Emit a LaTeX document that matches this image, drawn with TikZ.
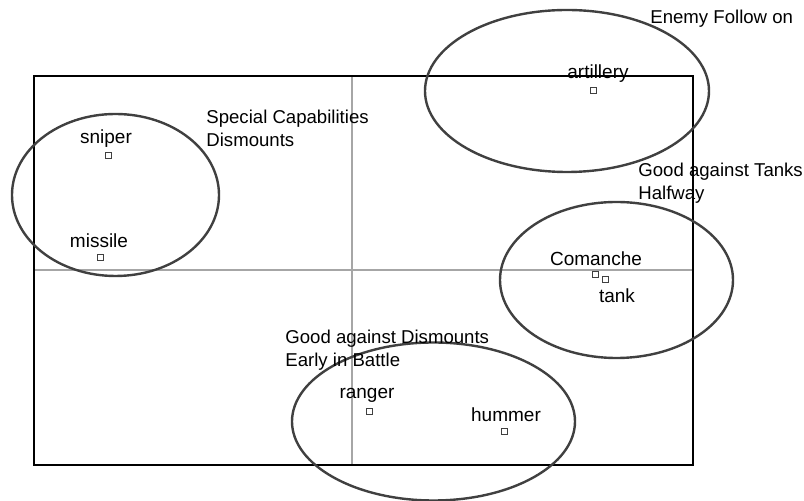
\documentclass[tikz,border=0pt]{standalone}
\usepackage{fontspec}
\setmainfont{Liberation Sans}
\tikzset{
  pt/.style={draw=black!75,fill=white,line width=.4pt,minimum size=3pt,inner sep=0pt},
  ptlabel/.style={font=\fontsize{9.5}{11}\selectfont,inner sep=0pt},
  grplabel/.style={font=\fontsize{9.3}{11.5}\selectfont,align=left,anchor=north west,inner sep=0pt},
  grp/.style={draw=black!75,line width=1.2pt},
}
\begin{document}
\begin{tikzpicture}[x=.5pt,y=-.5pt]
\useasboundingbox (0,0) rectangle (804,501);
% field and axes
\draw[black!35,line width=.7pt](34,270)--(693,270);
\draw[black!35,line width=.7pt](352,76)--(352,465);
\draw[line width=1pt](34,76)rectangle(693,465);
% groups
\draw[grp](115.5,195)ellipse[x radius=103.5,y radius=81];
\draw[grp](567,91)ellipse[x radius=142,y radius=81];
\draw[grp](616.5,280)ellipse[x radius=116.5,y radius=78];
\draw[grp](433.5,421.5)ellipse[x radius=141.5,y radius=79];
\node[grplabel](capab) at (206,110){Special Capabilities\\Dismounts};
\node[grplabel](follow) at (650,10){Enemy Follow on};
\node[grplabel](tanks) at (638,163){Good against Tanks\\Halfway};
\node[grplabel](dism) at (285,330){Good against Dismounts\\Early in Battle};
% units
\foreach \n/\x/\y/\lx/\ly/\t in {sniper/108/155/106/139/sniper,missile/100/257/99/241/missile,
  artillery/593/90/598/74/artillery,comanche/595/274/596/259/Comanche,tank/605/279/617/296/tank,
  ranger/369/411/367/395/ranger,hummer/504/431/506/415/hummer}
{
    \node[pt](\n) at (\x,\y){};
    \node[ptlabel](\n-l) at (\lx,\ly){\t};
}
\end{tikzpicture}
\end{document}
